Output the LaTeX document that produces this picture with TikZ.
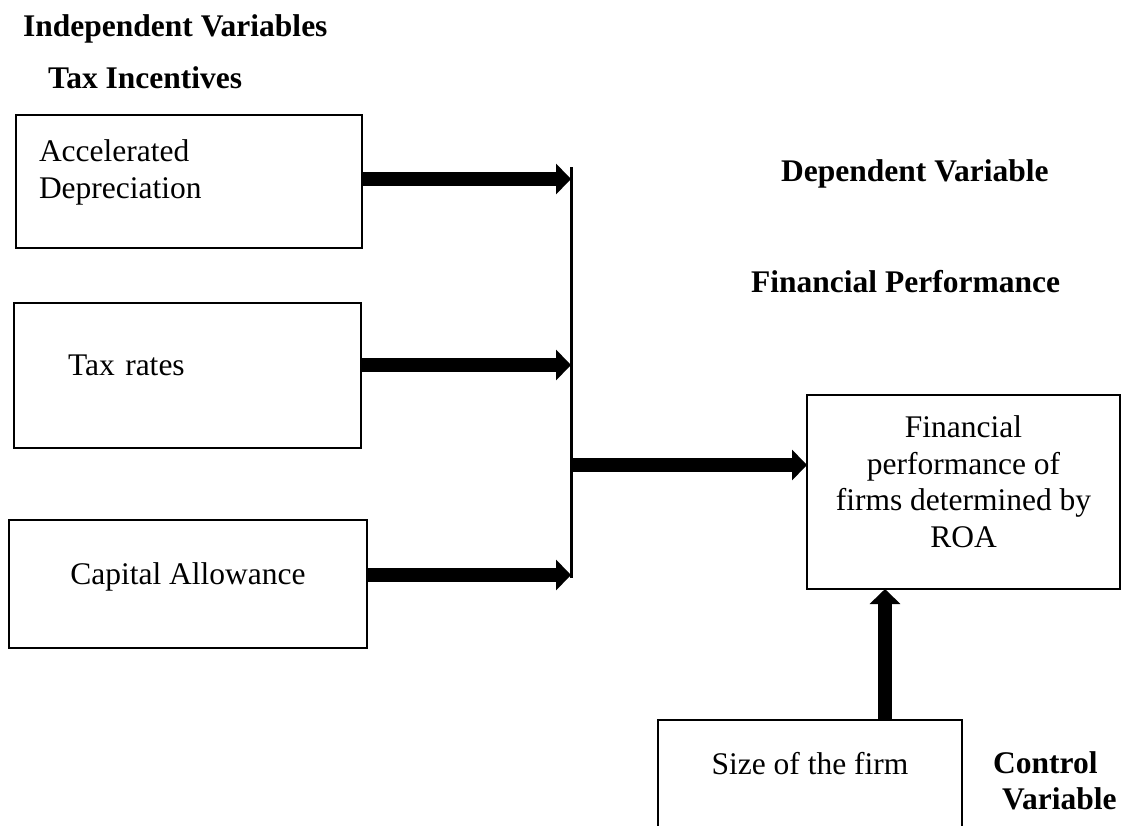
\documentclass[tikz,border=0pt]{standalone}
\usepackage{fontspec}
\setmainfont{Liberation Serif}
\usetikzlibrary{arrows.meta}
\newcommand{\bodysize}{\fontsize{31.5}{36.5}\selectfont}
\tikzstyle{varbox} = [rectangle, draw=black, line width=2pt, inner ysep=0pt,
outer sep=0pt, font=\bodysize]
\tikzstyle{heading} = [anchor=base west, inner sep=0pt, font=\bodysize\bfseries]
\tikzstyle{arrow} = [line width=14pt, -{Triangle[length=15pt, width=30pt]}]

\begin{document}
\begin{tikzpicture}[x=1pt, y=-1pt, node distance=194pt]
\useasboundingbox (0,0) rectangle (1129,825);
\clip (0,0) rectangle (1129,825);

\node(indep)[heading] at (23,36) {Independent Variables};
\node(taxinc)[heading] at (48,88) {Tax Incentives};

\node(acc)[varbox, minimum width=346pt, minimum height=133pt, text width=300pt,
inner xsep=23pt, align=left, text depth=61pt] at (189,181.5) {Accelerated\\Depreciation};
\node(tax)[varbox, below of=acc, xshift=-1.5pt, minimum width=347pt, minimum
height=145pt, text width=239pt, inner xsep=54pt, align=left, text depth=20pt]{Tax rates};
\node(cap)[varbox, below of=tax, yshift=-14.5pt, xshift=0.5pt, minimum width=358pt,
minimum height=128pt, text depth=21pt]{Capital Allowance};

\node(depv)[heading] at (781,181) {Dependent Variable};
\node(finp)[heading] at (751,292) {Financial Performance};

\node(roa)[varbox, minimum width=313pt, minimum height=194pt, align=center,
text depth=21pt] at (963.5,492) {Financial\\performance of\\firms determined by\\ROA};

\node(size)[varbox, anchor=north, minimum width=304pt, text height=54pt,
text depth=110pt] at (810,720) {Size of the firm};
\node(ctrl)[heading] at (993,773) {Control};
\node(ctrlvar)[heading] at (1002,809) {Variable};

\coordinate(bartop) at (571,167);
\coordinate(barbot) at (571,578);
\coordinate(junc) at (571,465);
\coordinate(in1) at ([yshift=2.5pt]acc.east);
\coordinate(in2) at ([yshift=10.5pt]tax.east);
\coordinate(in3) at ([yshift=9pt]cap.east);
\coordinate(up) at ([xshift=75pt]size.north);

\draw[line width=3pt](bartop) -- (barbot);
\draw[arrow](in1) -- (in1 -| bartop);
\draw[arrow](in2) -- (in2 -| bartop);
\draw[arrow](in3) -- (in3 -| bartop);
\draw[arrow](junc) -- (junc -| roa.west);
\draw[arrow](up) -- (up |- roa.south);

\end{tikzpicture}
\end{document}
